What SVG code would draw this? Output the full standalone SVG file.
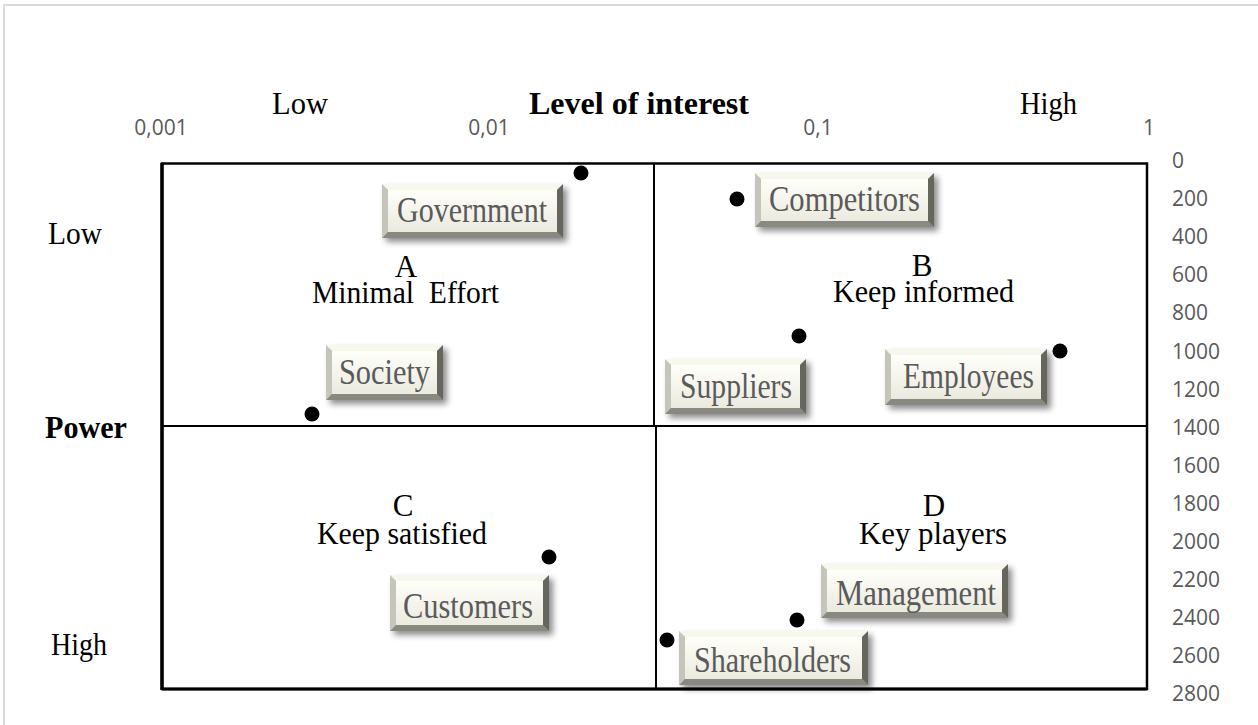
<svg xmlns="http://www.w3.org/2000/svg" width="1258" height="725" viewBox="0 0 1258 725">
<style>
.tick{font-family:"Open Sans","Liberation Sans",sans-serif;font-size:21px;fill:#595959}
.ser{font-family:"Liberation Serif","Times New Roman",serif;font-size:31px;fill:#000}
.bold{font-weight:bold}
.btxt{font-family:"Liberation Serif","Times New Roman",serif;font-size:35px;fill:#5a5a5a;text-anchor:middle}
.mid{text-anchor:middle}
.ln{stroke:#000;fill:none}
.bt{fill:#f8f7ee}
.bl{fill:#c6c5bc}
.br{fill:#66665f}
.bb{fill:#8a8981}
.face{fill:url(#faceG)}
.sh{fill:#000;opacity:.45;filter:url(#blur)}
.dot{fill:#000}
</style>
<defs>
<linearGradient id="faceG" x1="0" y1="0" x2="0" y2="1">
<stop offset="0" stop-color="#fffffa"/>
<stop offset="1" stop-color="#ebeadf"/>
</linearGradient>
<filter id="blur" x="-20%" y="-30%" width="140%" height="160%"><feGaussianBlur stdDeviation="3"/></filter>
</defs>
<rect x="0" y="0" width="1258" height="725" fill="#fff"/>
<rect x="4" y="5" width="1300" height="800" fill="none" stroke="#d9d9d9" stroke-width="2"/>

<g id="axes">
<text class="tick mid" x="161" y="135">0,001</text>
<text class="tick mid" x="489" y="135">0,01</text>
<text class="tick mid" x="818" y="135">0,1</text>
<text class="tick mid" x="1149" y="135">1</text>
<text class="ser" x="272" y="114" textLength="56" lengthAdjust="spacingAndGlyphs">Low</text>
<text class="ser bold" x="529" y="114" textLength="220" lengthAdjust="spacingAndGlyphs">Level of interest</text>
<text class="ser" x="1020" y="114" textLength="57" lengthAdjust="spacingAndGlyphs">High</text>
<text class="ser" x="48" y="244" textLength="54" lengthAdjust="spacingAndGlyphs">Low</text>
<text class="ser bold" x="45" y="438" textLength="82" lengthAdjust="spacingAndGlyphs">Power</text>
<text class="ser" x="51" y="655" textLength="56" lengthAdjust="spacingAndGlyphs">High</text>
<g class="tick">
<text x="1172" y="168">0</text>
<text x="1172" y="206">200</text>
<text x="1172" y="244">400</text>
<text x="1172" y="282">600</text>
<text x="1172" y="320">800</text>
<text x="1172" y="359">1000</text>
<text x="1172" y="397">1200</text>
<text x="1172" y="435">1400</text>
<text x="1172" y="473">1600</text>
<text x="1172" y="511">1800</text>
<text x="1172" y="549">2000</text>
<text x="1172" y="587">2200</text>
<text x="1172" y="625">2400</text>
<text x="1172" y="663">2600</text>
<text x="1172" y="701">2800</text>
</g>
</g>

<g id="grid">
<rect class="ln" x="162" y="163.5" width="985" height="525.5" stroke-width="2.5"/>
<line class="ln" x1="162" y1="163" x2="162" y2="690" stroke-width="3.5"/>
<line class="ln" x1="162" y1="689" x2="1147" y2="689" stroke-width="3"/>
<line class="ln" x1="162" y1="426" x2="1147" y2="426" stroke-width="2"/>
<line class="ln" x1="654" y1="163" x2="654" y2="426" stroke-width="2"/>
<line class="ln" x1="656" y1="426" x2="656" y2="689" stroke-width="2"/>
</g>

<g id="quadrants">
<text class="ser mid" x="406" y="277">A</text>
<text class="ser" x="312" y="303" textLength="187" lengthAdjust="spacingAndGlyphs" xml:space="preserve">Minimal  Effort</text>
<text class="ser mid" x="922" y="276">B</text>
<text class="ser" x="833" y="302" textLength="181" lengthAdjust="spacingAndGlyphs">Keep informed</text>
<text class="ser mid" x="403" y="516">C</text>
<text class="ser" x="317" y="544" textLength="170" lengthAdjust="spacingAndGlyphs">Keep satisfied</text>
<text class="ser mid" x="934" y="516">D</text>
<text class="ser" x="859" y="544" textLength="148" lengthAdjust="spacingAndGlyphs">Key players</text>
</g>

<g id="government">
<rect class="sh" x="386" y="188" width="181" height="54"/>
<polygon class="bt" points="382,184 563,184 557,190 388,190"/>
<polygon class="bl" points="382,184 388,190 388,232 382,238"/>
<polygon class="br" points="563,184 563,238 557,232 557,190"/>
<polygon class="bb" points="382,238 563,238 557,232 388,232"/>
<rect class="face" x="388" y="190" width="169" height="42"/>
<text class="btxt" x="472" y="222" textLength="150" lengthAdjust="spacingAndGlyphs">Government</text>
<circle class="dot" cx="581" cy="173" r="7.5"/>
</g>

<g id="society">
<rect class="sh" x="330" y="349" width="117" height="55"/>
<polygon class="bt" points="326,345 443,345 437,351 332,351"/>
<polygon class="bl" points="326,345 332,351 332,394 326,400"/>
<polygon class="br" points="443,345 443,400 437,394 437,351"/>
<polygon class="bb" points="326,400 443,400 437,394 332,394"/>
<rect class="face" x="332" y="351" width="105" height="43"/>
<text class="btxt" x="384.5" y="384" textLength="91" lengthAdjust="spacingAndGlyphs">Society</text>
<circle class="dot" cx="312" cy="414" r="7.5"/>
</g>

<g id="competitors">
<rect class="sh" x="759" y="177" width="179" height="54"/>
<polygon class="bt" points="755,173 934,173 928,179 761,179"/>
<polygon class="bl" points="755,173 761,179 761,221 755,227"/>
<polygon class="br" points="934,173 934,227 928,221 928,179"/>
<polygon class="bb" points="755,227 934,227 928,221 761,221"/>
<rect class="face" x="761" y="179" width="167" height="42"/>
<text class="btxt" x="844.5" y="211" textLength="151" lengthAdjust="spacingAndGlyphs">Competitors</text>
<circle class="dot" cx="737" cy="199" r="7.5"/>
</g>

<g id="suppliers">
<rect class="sh" x="669" y="363" width="141" height="55"/>
<polygon class="bt" points="665,359 806,359 800,365 671,365"/>
<polygon class="bl" points="665,359 671,365 671,408 665,414"/>
<polygon class="br" points="806,359 806,414 800,408 800,365"/>
<polygon class="bb" points="665,414 806,414 800,408 671,408"/>
<rect class="face" x="671" y="365" width="129" height="43"/>
<text class="btxt" x="736" y="398" textLength="112" lengthAdjust="spacingAndGlyphs">Suppliers</text>
<circle class="dot" cx="799" cy="336" r="7.5"/>
</g>

<g id="employees">
<rect class="sh" x="889" y="353" width="162" height="56"/>
<polygon class="bt" points="885,349 1047,349 1041,355 891,355"/>
<polygon class="bl" points="885,349 891,355 891,399 885,405"/>
<polygon class="br" points="1047,349 1047,405 1041,399 1041,355"/>
<polygon class="bb" points="885,405 1047,405 1041,399 891,399"/>
<rect class="face" x="891" y="355" width="150" height="44"/>
<text class="btxt" x="968.5" y="388" textLength="131" lengthAdjust="spacingAndGlyphs">Employees</text>
<circle class="dot" cx="1060" cy="351" r="7.5"/>
</g>

<g id="customers">
<rect class="sh" x="394" y="579" width="159" height="56"/>
<polygon class="bt" points="390,575 549,575 543,581 396,581"/>
<polygon class="bl" points="390,575 396,581 396,625 390,631"/>
<polygon class="br" points="549,575 549,631 543,625 543,581"/>
<polygon class="bb" points="390,631 549,631 543,625 396,625"/>
<rect class="face" x="396" y="581" width="147" height="44"/>
<text class="btxt" x="468" y="618" textLength="130" lengthAdjust="spacingAndGlyphs">Customers</text>
<circle class="dot" cx="549" cy="557" r="7.5"/>
</g>

<g id="management">
<rect class="sh" x="825" y="568" width="187" height="54"/>
<polygon class="bt" points="821,564 1008,564 1002,570 827,570"/>
<polygon class="bl" points="821,564 827,570 827,612 821,618"/>
<polygon class="br" points="1008,564 1008,618 1002,612 1002,570"/>
<polygon class="bb" points="821,618 1008,618 1002,612 827,612"/>
<rect class="face" x="827" y="570" width="175" height="42"/>
<text class="btxt" x="916" y="605" textLength="160" lengthAdjust="spacingAndGlyphs">Management</text>
<circle class="dot" cx="797" cy="620" r="7.5"/>
</g>

<g id="shareholders">
<rect class="sh" x="683" y="635" width="189" height="54"/>
<polygon class="bt" points="679,631 868,631 862,637 685,637"/>
<polygon class="bl" points="679,631 685,637 685,679 679,685"/>
<polygon class="br" points="868,631 868,685 862,679 862,637"/>
<polygon class="bb" points="679,685 868,685 862,679 685,679"/>
<rect class="face" x="685" y="637" width="177" height="42"/>
<text class="btxt" x="772.5" y="672" textLength="157" lengthAdjust="spacingAndGlyphs">Shareholders</text>
<circle class="dot" cx="667" cy="640" r="7.5"/>
</g>

<g id="connectors"></g>
</svg>
